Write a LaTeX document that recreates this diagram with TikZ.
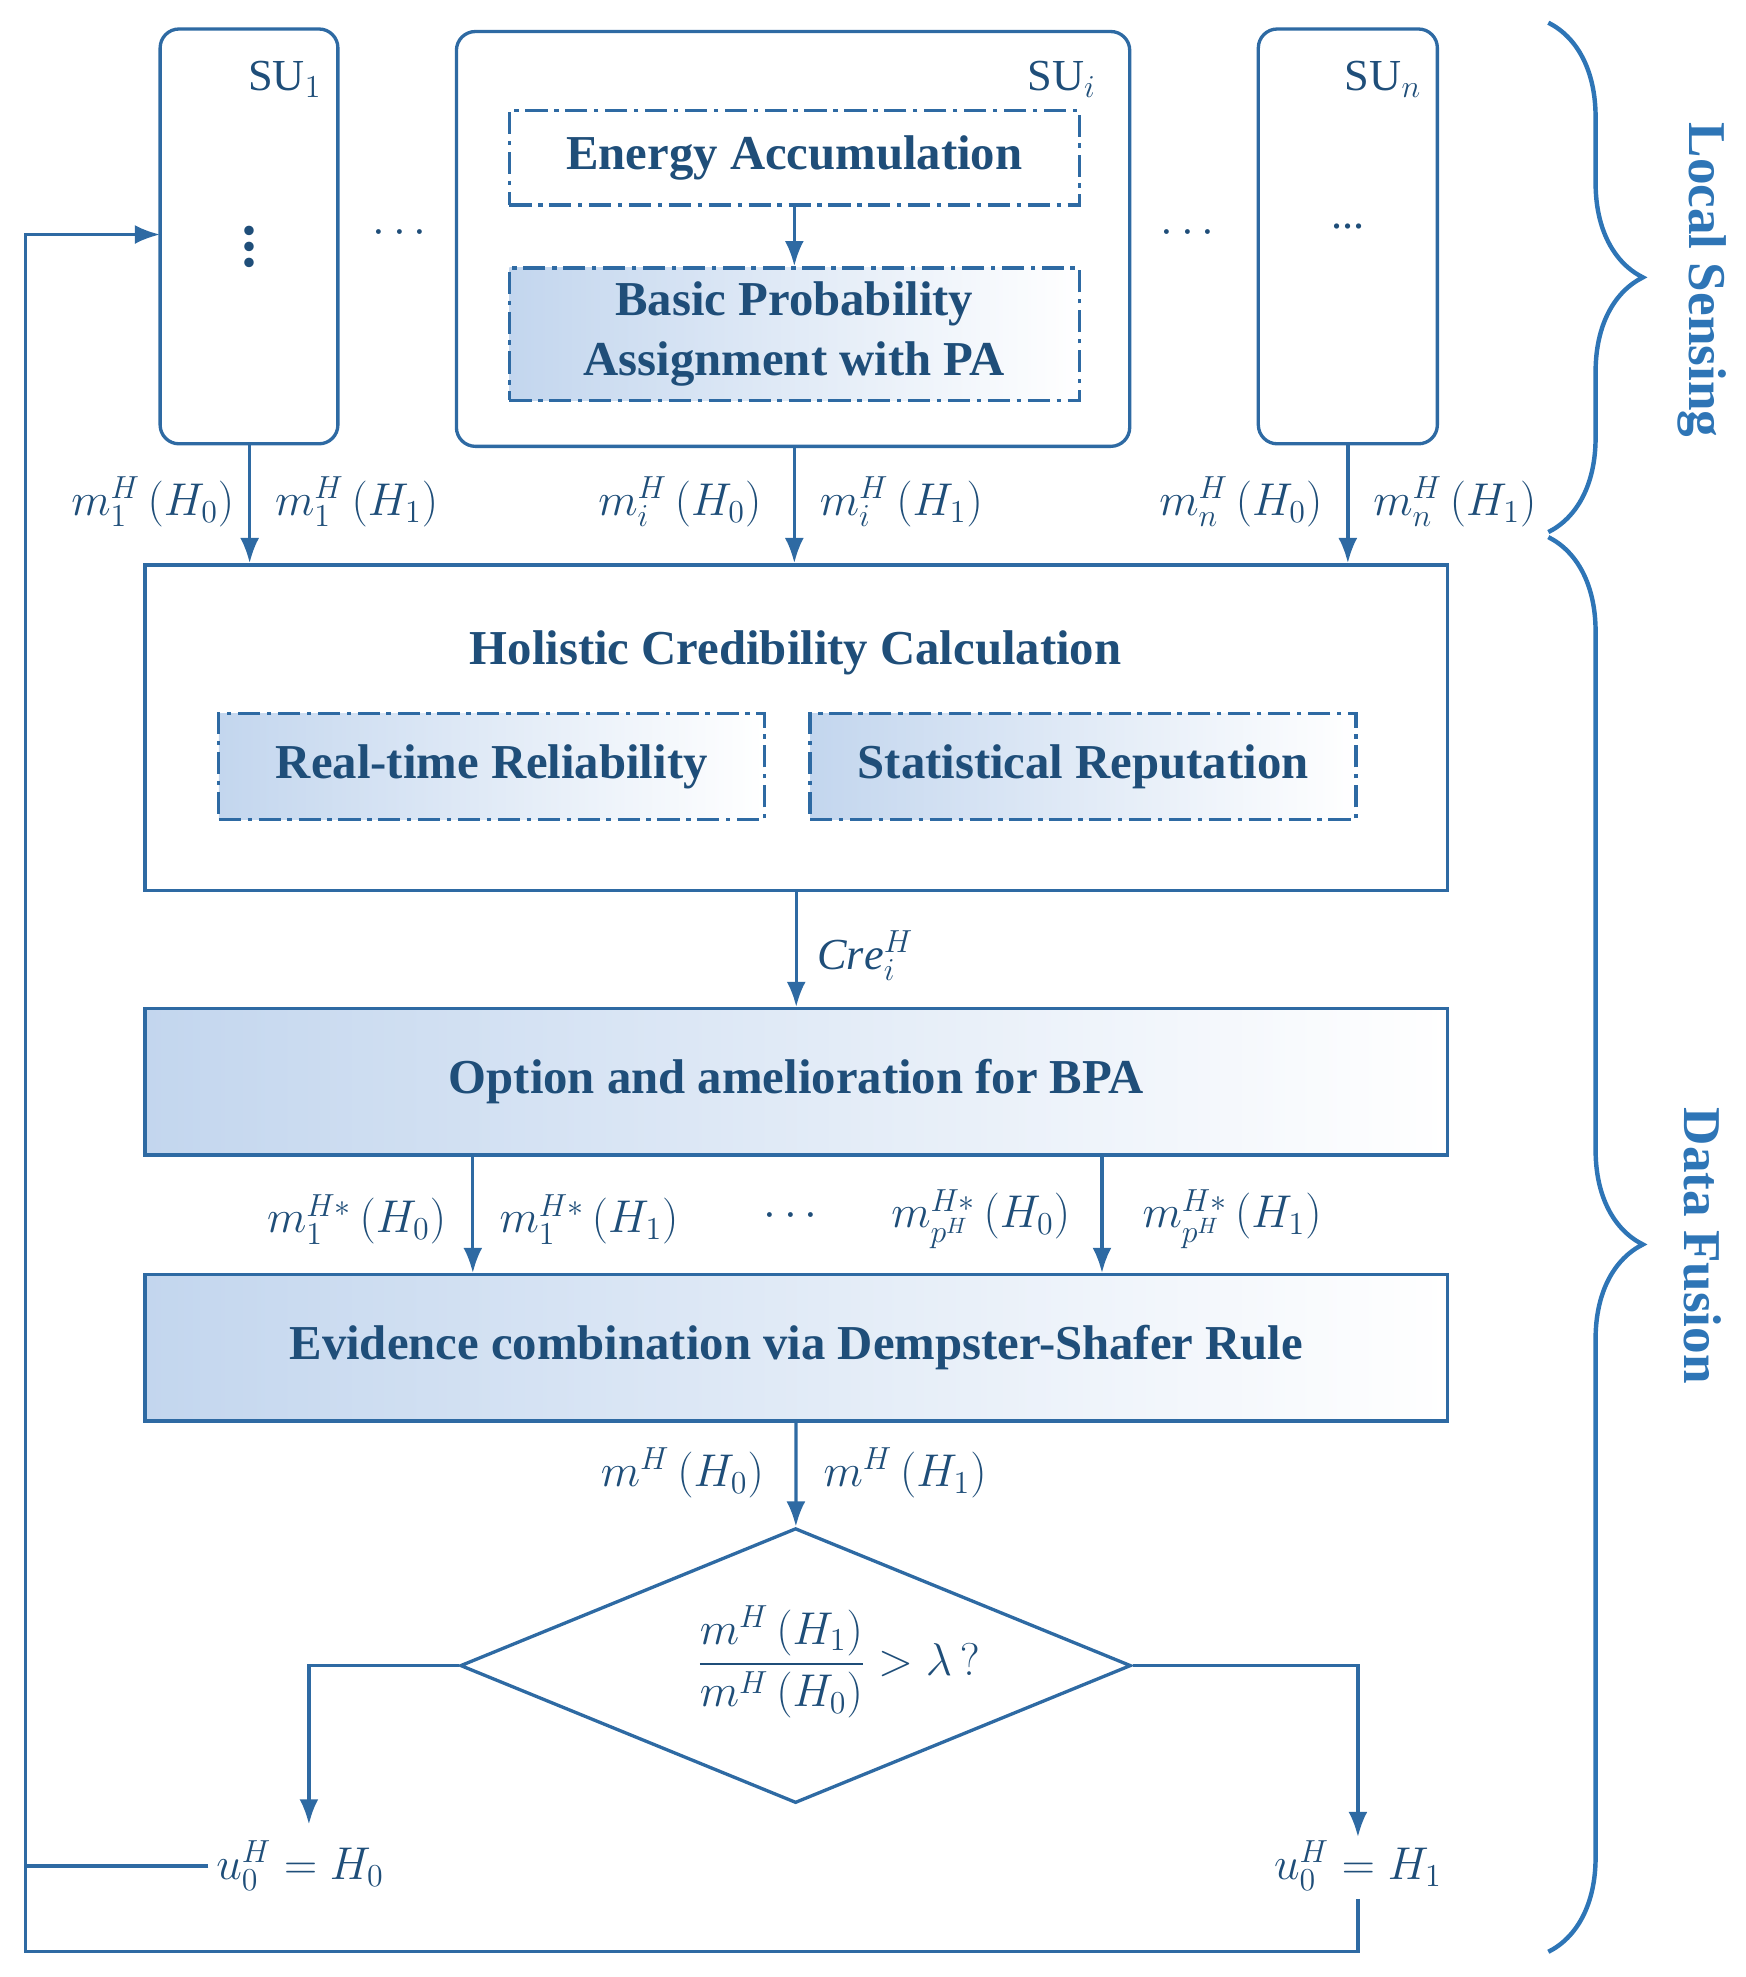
\documentclass[tikz,border=0pt]{standalone}
\usepackage{fontspec}
\setmainfont{Liberation Serif}
\usepackage{amsmath}
\usetikzlibrary{positioning,shapes.geometric,decorations.pathreplacing,arrows.meta}
\definecolor{lineblue}{HTML}{2E6AA3}
\definecolor{textblue}{HTML}{1F4E79}
\definecolor{braceblue}{HTML}{2E75B6}
\definecolor{fillblue}{HTML}{C3D6EE}
\begin{document}
\begin{tikzpicture}[x=0.02cm,y=-0.02cm,
	suBox/.style={draw=lineblue, line width=1.5pt, rounded corners=3mm},
	bigBox/.style={draw=lineblue, line width=1.5pt, minimum width=1033*0.02cm},
	shadeBox/.style={bigBox, left color=fillblue, right color=white, minimum height=116*0.02cm},
	dashBox/.style={draw=lineblue, line width=1.5pt, dash pattern=on 10pt off 3pt on 2pt off 3pt, text=textblue, font=\fontsize{22}{27}\selectfont\bfseries, align=center},
	arr/.style={draw=lineblue, line width=1.5pt, -{Latex[length=4mm,width=3mm]}},
	conn/.style={draw=lineblue, line width=1.5pt},
	lbl/.style={font=\fontsize{20}{24}\selectfont, text=textblue},
	brc/.style={draw=braceblue, line width=2pt, decorate, decoration={brace, amplitude=1.5cm}},
	]
	\useasboundingbox (0,0) rectangle (1384,1568);
	%Local sensing units
	\draw[suBox] (127,23) rectangle (268,352);
	\draw[suBox] (362,25) rectangle (896,354);
	\draw[suBox] (998,23) rectangle (1140,352);
	\node[lbl] at (226,63) {SU$_1$};
	\node[lbl] at (842,63) {SU$_i$};
	\node[lbl] at (1097,63) {SU$_n$};
	\coordinate (su1) at (198,352);
	\coordinate (sui) at (630,354);
	\coordinate (sun) at (1069,352);
	\coordinate (su1w) at (127,186);
	\node[lbl, scale=1.8] at (198,186) {$\vdots$};
	\node[lbl] at (320,185) {$\cdots$};
	\node[lbl] at (945,185) {$\cdots$};
	\node[lbl] at (1069,180) {...};
	\node[dashBox, minimum width=452*0.02cm, minimum height=75*0.02cm] (energy) at (630,125) {Energy Accumulation};
	\node[dashBox, left color=fillblue, right color=white, minimum width=452*0.02cm, minimum height=105*0.02cm] (bpa) at (630,265) {Basic Probability\\Assignment with PA};
	%Fusion
	\node[bigBox, minimum height=258*0.02cm] (holistic) at (631.5,577) {};
	\node[text=textblue, font=\fontsize{22}{27}\selectfont\bfseries] at (631,518) {Holistic Credibility Calculation};
	\node[dashBox, left color=fillblue, right color=white, minimum width=433*0.02cm, minimum height=84*0.02cm] (real) at (390,608) {Real-time Reliability};
	\node[dashBox, left color=fillblue, right color=white, minimum width=433*0.02cm, minimum height=84*0.02cm] (stat) at (859,608) {Statistical Reputation};
	\node[shadeBox, text=textblue, font=\fontsize{22}{27}\selectfont\bfseries] (option) at (631.5,858) {Option and amelioration for BPA};
	\node[shadeBox, text=textblue, font=\fontsize{22}{27}\selectfont\bfseries] (evidence) at (631.5,1069) {Evidence combination via Dempster-Shafer Rule};
	\node[diamond, draw=lineblue, line width=1.5pt, minimum width=532*0.02cm, minimum height=218*0.02cm, inner sep=0pt] (ratio) at (631,1321) {};
	\node[lbl] at (665,1318) {$\dfrac{m^{H}\left(H_1\right)}{m^{H}\left(H_0\right)} > \lambda\,?$};
	\node[lbl] (u0) at (238,1480) {$u_0^{H} = H_0$};
	\node[lbl] (u1) at (1077,1480) {$u_0^{H} = H_1$};
	%Lines
	\draw[arr] (energy) -- (bpa);
	\draw[arr] (su1) -- (su1 |- holistic.north);
	\draw[arr] (sui) -- (sui |- holistic.north);
	\draw[arr] (sun) -- (sun |- holistic.north);
	\node[lbl, anchor=east] at (192,398) {$m_1^{H}\left(H_0\right)$};
	\node[lbl, anchor=west] at (212,398) {$m_1^{H}\left(H_1\right)$};
	\node[lbl, anchor=east] at (610,398) {$m_i^{H}\left(H_0\right)$};
	\node[lbl, anchor=west] at (644,398) {$m_i^{H}\left(H_1\right)$};
	\node[lbl, anchor=east] at (1055,398) {$m_n^{H}\left(H_0\right)$};
	\node[lbl, anchor=west] at (1083,398) {$m_n^{H}\left(H_1\right)$};
	\draw[arr] (holistic.south -| option.north) -- (option.north);
	\node[lbl, anchor=west] at (642,758) {$\mathit{Cre}_i^{H}$};
	\draw[arr] (option.south -| 375,0) -- (evidence.north -| 375,0);
	\draw[arr] (option.south -| 874,0) -- (evidence.north -| 874,0);
	\node[lbl, anchor=east] at (360,967) {$m_1^{H*}\left(H_0\right)$};
	\node[lbl, anchor=west] at (390,967) {$m_1^{H*}\left(H_1\right)$};
	\node[lbl] at (630,965) {$\cdots$};
	\node[lbl, anchor=east] at (855,967) {$m_{p^H}^{H*}\left(H_0\right)$};
	\node[lbl, anchor=west] at (900,967) {$m_{p^H}^{H*}\left(H_1\right)$};
	\draw[arr] (evidence) -- (ratio);
	\node[lbl, anchor=east] at (612,1168) {$m^{H}\left(H_0\right)$};
	\node[lbl, anchor=west] at (647,1168) {$m^{H}\left(H_1\right)$};
	\draw[arr] (ratio.west) -| (245,1447);
	\draw[arr] (ratio.east) -| (1077,1457);
	\draw[arr] (u0.west) -- (20,1480) |- (su1w);
	\draw[conn] (u1.south) -- (1077,1548) -- (20,1548) -- (20,1480);
	%Braces
	\draw[brc] (1228,18) -- (1228,422);
	\draw[brc] (1228,426) -- (1228,1548);
	\node[rotate=-90, text=braceblue, font=\fontsize{24}{28}\selectfont\bfseries] at (1350,222) {Local Sensing};
	\node[rotate=-90, text=braceblue, font=\fontsize{24}{28}\selectfont\bfseries] at (1350,988) {Data Fusion};
\end{tikzpicture}
\end{document}
